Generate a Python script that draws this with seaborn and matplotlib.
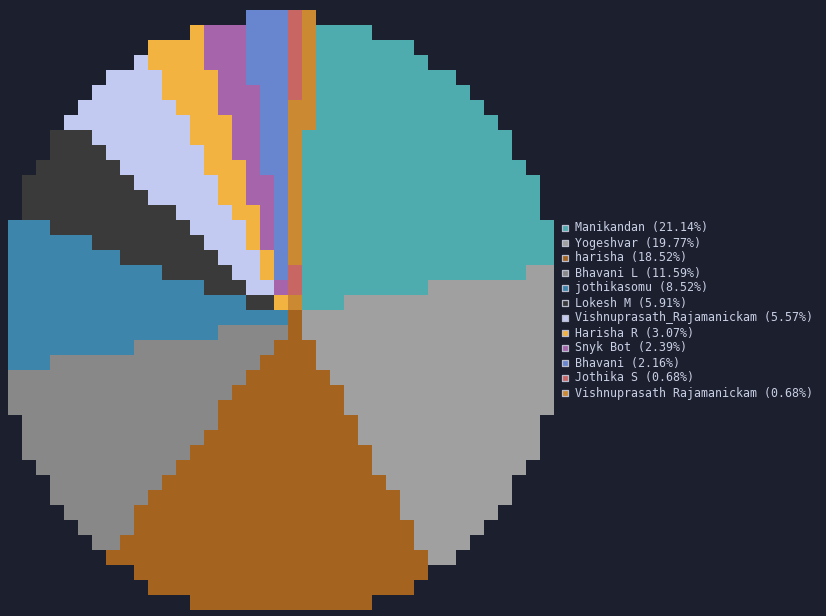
"""
pixel style pie chart of commit share per author
drawn as a seaborn heatmap of grid cells
"""

import numpy as np
import matplotlib
matplotlib.use("Agg")
import matplotlib.pyplot as plt
from matplotlib.colors import ListedColormap
import seaborn as sbn

authors = ["Manikandan", "Yogeshvar", "harisha", "Bhavani L", "jothikasomu",
           "Lokesh M", "Vishnuprasath_Rajamanickam", "Harisha R", "Snyk Bot",
           "Bhavani", "Jothika S", "Vishnuprasath Rajamanickam"]
shares = [21.14, 19.77, 18.52, 11.59, 8.52, 5.91, 5.57, 3.07, 2.39, 2.16,
          0.68, 0.68]
colors = ["#4eabae", "#a0a0a0", "#a46420", "#888888", "#3d85ab", "#3a3a3a",
          "#c3caf1", "#f3b340", "#a664ab", "#6886cf", "#c86664", "#cb8a32"]

BG = "#1c1f2e"
TEXT = "#c9cfe4"

# grid of "pixels" (two terminal chars wide)
ncols, nrows = 39, 40
cell_w, cell_h = 14, 15
pie_cx, pie_cy = 20.2, 20.35
start_deg = 4.5

cum = np.cumsum(shares) / np.sum(shares)
grid = np.full((nrows, ncols), np.nan)
subs = [0.25, 0.5, 0.75]
for r in range(nrows):
    for c in range(ncols):
        if (c - 19) ** 2 + (r - 20) ** 2 > 407:
            continue
        best = -1
        for su in subs:
            for sv in subs:
                dx = (c + su - pie_cx) * cell_w
                dy = (r + sv - pie_cy) * cell_h
                ang = (np.degrees(np.arctan2(dx, -dy)) - start_deg) % 360
                k = int(np.searchsorted(cum, ang / 360, side="right"))
                best = max(best, min(k, len(shares) - 1))
        grid[r, c] = best

fig = plt.figure(figsize=(8.26, 6.16), dpi=100, facecolor=BG)
ax = fig.add_axes([8 / 826, 6 / 616, 546 / 826, 600 / 616])
ax.set_facecolor(BG)
sbn.heatmap(grid, cmap=ListedColormap(colors), vmin=-0.5,
            vmax=len(colors) - 0.5, cbar=False, ax=ax,
            xticklabels=False, yticklabels=False)
ax.set_xlabel("")
ax.set_ylabel("")
for s in ax.spines.values():
    s.set_visible(False)

# legend, drawn in pixel coords
lg = fig.add_axes([0, 0, 1, 1])
lg.set_xlim(0, 826)
lg.set_ylim(616, 0)
lg.axis("off")
ys = [228 + 15 * i for i in range(len(authors))]
lg.scatter([565] * len(authors), ys, marker="s", s=22, c=colors,
           edgecolors="#b8bccc", linewidths=0.9)
for name, pct, y in zip(authors, shares, ys):
    lg.text(575, y, f"{name} ({pct:.2f}%)", color=TEXT, va="center",
            ha="left", family="DejaVu Sans Mono", fontsize=8.37)

plt.savefig("out.png", dpi=100, facecolor=BG)
